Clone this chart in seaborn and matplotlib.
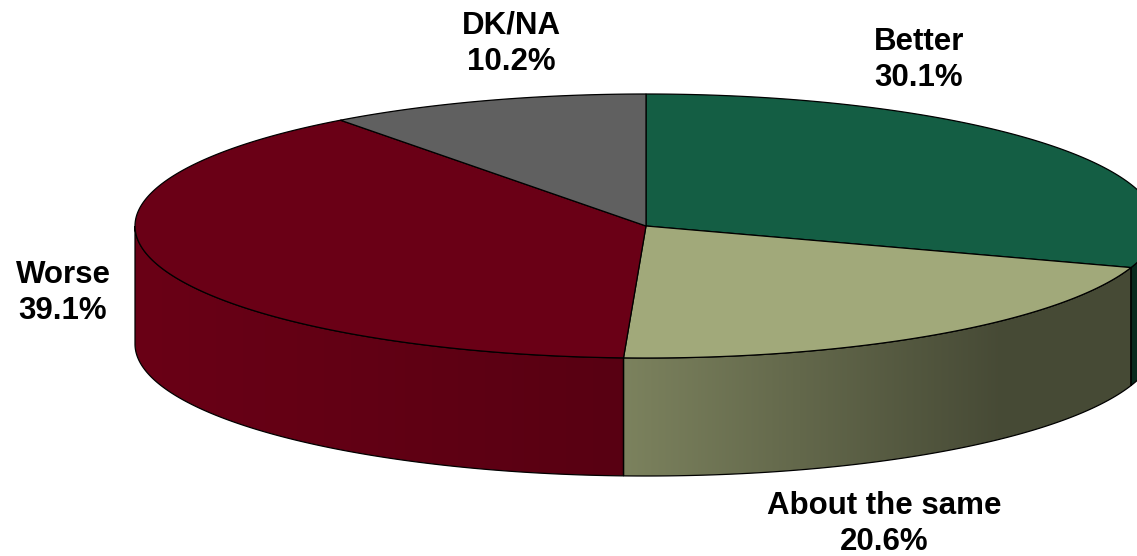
import numpy as np
import matplotlib
matplotlib.use("Agg")
import matplotlib.pyplot as plt
from matplotlib.patches import Polygon
import seaborn as sns

# Survey answers, drawn clockwise from 12 o'clock
categories = ["Better", "About the same", "Worse", "DK/NA"]
shares = [30.1, 20.6, 39.1, 10.2]
slice_colors = ["#145e44", "#a1a97a", "#6a0016", "#606060"]

sns.set_theme(style="white")
plt.rcParams["font.family"] = ["Liberation Sans", "DejaVu Sans"]

W, H = 1137, 556
fig = plt.figure(figsize=(W / 100, H / 100), dpi=100)
ax = fig.add_axes([0, 0, 1, 1])
ax.set_xlim(0, W)
ax.set_ylim(H, 0)
ax.axis("off")

# Tilted disc geometry (screen units)
cx, cy = 646, 226
rx, ry = 511, 132
depth = 118

palette = sns.color_palette(slice_colors)


def rim(t, drop=0.0):
    return np.column_stack([cx + rx * np.cos(t), cy - ry * np.sin(t) + drop])


def shade(x):
    # light comes from the left: the wall darkens towards the right
    u = (np.asarray(x) - (cx - rx)) / (2 * rx)
    return np.interp(u, [0.0, 0.475, 0.477, 0.845, 1.0],
                     [1.0, 0.83, 0.77, 0.44, 0.44])


fractions = np.asarray(shares) / np.sum(shares)
ends = np.pi / 2 - 2 * np.pi * np.cumsum(fractions)
starts = np.concatenate([[np.pi / 2], ends[:-1]])

# Front walls (only the lower half of the rim faces the viewer)
for color, t_start, t_end in zip(palette, starts, ends):
    lo, hi = t_end, t_start
    for k in (-1, 0, 1):
        a0, a1 = max(lo, -np.pi + 2 * np.pi * k), min(hi, 2 * np.pi * k)
        if a1 - a0 <= 1e-6:
            continue
        t = np.linspace(a1, a0, 200)
        top = rim(t)
        bottom = rim(t[::-1], depth)
        pts = np.vstack([top, bottom])
        poly = Polygon(pts, closed=True, facecolor="none", edgecolor="black",
                       linewidth=0.9, zorder=3)
        ax.add_patch(poly)
        clip = Polygon(pts, closed=True, facecolor="none", edgecolor="none")
        ax.add_patch(clip)
        x0, x1 = pts[:, 0].min(), pts[:, 0].max()
        y0, y1 = pts[:, 1].min(), pts[:, 1].max()
        xs = np.linspace(x0, x1, max(int(x1 - x0), 2))
        rgb = np.clip(np.array(color)[None, None, :] * shade(xs)[None, :, None], 0, 1)
        rgb = np.repeat(rgb, 2, axis=0)
        im = ax.imshow(rgb, extent=(x0, x1, y1, y0), aspect="auto",
                       interpolation="bilinear", zorder=2)
        im.set_clip_path(clip)

# Top face wedges
for color, t_start, t_end in zip(palette, starts, ends):
    t = np.linspace(t_start, t_end, 300)
    pts = np.vstack([[cx, cy], rim(t)])
    ax.add_patch(Polygon(pts, closed=True, facecolor=color, edgecolor="black",
                         linewidth=0.9, zorder=4))

ax.set_xlim(0, W)
ax.set_ylim(H, 0)

# Category labels with their shares
label_pos = {
    "Better": (919, 60),
    "About the same": (884, 524),
    "Worse": (63, 293),
    "DK/NA": (511, 44),
}
for name, value in zip(categories, shares):
    x, y = label_pos[name]
    ax.text(x, y, f"{name}\n{value:.1f}%", ha="center", va="center",
            fontsize=22.5, fontweight="bold", color="black", linespacing=1.28,
            zorder=5)

fig.savefig("out.png", dpi=100)
